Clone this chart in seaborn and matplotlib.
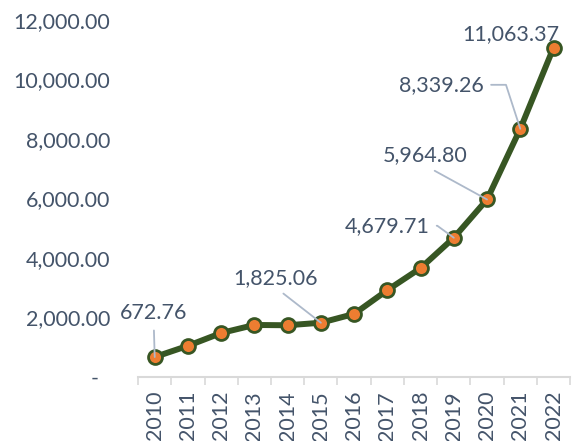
import matplotlib
matplotlib.use("Agg")
import matplotlib.pyplot as plt
import seaborn as sns
import pandas as pd
from matplotlib.ticker import FuncFormatter, FixedLocator

years = ["2010", "2011", "2012", "2013", "2014", "2015", "2016",
         "2017", "2018", "2019", "2020", "2021", "2022"]
values = [672.76, 1050.0, 1480.0, 1750.0, 1740.0, 1825.06, 2120.0,
          2920.0, 3660.0, 4679.71, 5964.80, 8339.26, 11063.37]
labeled_years = ["2010", "2015", "2019", "2020", "2021", "2022"]

sns.set_theme(style="white")
plt.rcParams["font.family"] = ["Lato", "DejaVu Sans"]

TEXT = "#44546A"
LINE = "#375623"
MARK = "#ED7D31"
LEAD = "#ADB9CA"
AXIS = "#D9D9D9"

df = pd.DataFrame({"idx": range(len(years)), "year": years, "value": values})

fig = plt.figure(figsize=(5.73, 4.41), dpi=100)
ax = fig.add_axes([0.241, 0.145, 0.754, 0.81])

sns.lineplot(data=df, x="idx", y="value", ax=ax, color=LINE, linewidth=4.3,
             marker="o", markersize=10, markerfacecolor=MARK,
             markeredgecolor=LINE, markeredgewidth=2.0, zorder=3)

ax.set_xlim(-0.5, len(years) - 0.5)
ax.set_ylim(0, 12000)
ax.set_xlabel("")
ax.set_ylabel("")

ax.set_xticks(range(len(years)))
ax.set_xticklabels(years, rotation=90, fontsize=15.5, color=TEXT)
ax.xaxis.set_minor_locator(FixedLocator([i - 0.5 for i in range(len(years) + 1)]))
ax.tick_params(axis="x", which="major", length=0, pad=10)
ax.tick_params(axis="x", which="minor", length=6, width=1.2, color=AXIS, bottom=True)

ax.set_yticks(range(0, 12001, 2000))
ax.yaxis.set_major_formatter(FuncFormatter(lambda v, p: "-  " if v == 0 else f"{v:,.2f}"))
ax.tick_params(axis="y", length=0, pad=20, labelsize=15.5, labelcolor=TEXT)

for s in ["top", "right", "left"]:
    ax.spines[s].set_visible(False)
ax.spines["bottom"].set_color(AXIS)
ax.spines["bottom"].set_linewidth(1.5)

# label offsets (pixels), leader attach point, connector style
offsets = {
    "2010": ((-1, 44), (0.5, 0.0), "arc3"),
    "2015": ((-45, 45), (0.5, 0.0), "arc3"),
    "2019": ((-67, 12), (1.0, 0.5), "angle,angleA=0,angleB=144,rad=0"),
    "2020": ((-62, 44), (0.5, 0.0), "arc3"),
    "2021": ((-79, 44), (1.0, 0.5), "angle,angleA=0,angleB=108,rad=0"),
    "2022": ((-43, 14), (0.5, 0.5), None),
}
for _, row in df.iterrows():
    if row["year"] not in labeled_years:
        continue
    (dx, dy), rel, conn = offsets[row["year"]]
    kw = {}
    if conn:
        kw["arrowprops"] = dict(arrowstyle="-", color=LEAD, lw=1.3,
                                shrinkA=3, shrinkB=0, relpos=rel,
                                connectionstyle=conn)
    ax.annotate(f"{row['value']:,.2f}", xy=(row["idx"], row["value"]),
                xytext=(dx, dy), textcoords="offset pixels",
                ha="center", va="center", fontsize=15.5, color=TEXT,
                zorder=4, **kw)

fig.savefig("out.png", dpi=100)
